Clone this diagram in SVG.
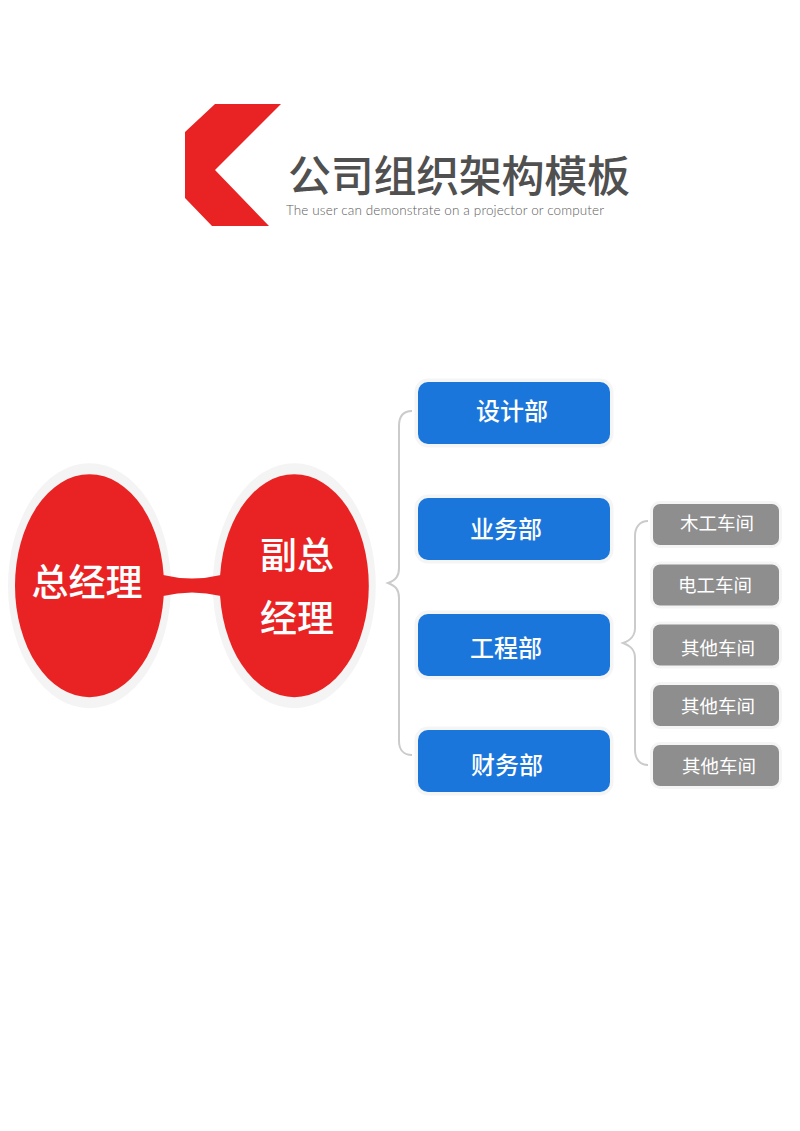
<svg xmlns="http://www.w3.org/2000/svg" width="800" height="1131" viewBox="0 0 800 1131">
<style>
text{font-family:"Noto Sans CJK SC","Noto Sans",sans-serif;text-anchor:middle}
.halo{fill:#f4f4f4}
.oval{fill:#e92323}
.dept{fill:#1b76dc;stroke:#f5f5f5;stroke-width:7;paint-order:stroke}
.shop{fill:#8e8e8e;stroke:#f5f5f5;stroke-width:6;paint-order:stroke}
.ot{fill:#fff;font-size:37px;font-weight:500}
.dt{fill:#fff;font-size:24px;font-weight:500}
.st{fill:#fff;font-size:18.500px;font-weight:400}
.br{fill:none;stroke:#cbcbcb;stroke-width:2}
</style>
<rect width="800" height="1131" fill="#fff"/>
<g id="header">
<polygon points="215,104 281,104 215,170 269,226 212,226 185,198 185,132" fill="#e92323"/>
<text x="459" y="192" font-size="43" fill="#505050" font-weight="500" textLength="342" lengthAdjust="spacing">公司组织架构模板</text>
<text x="445" y="214.500" font-size="13.500" fill="#5c5c5c" textLength="318" lengthAdjust="spacing" style="font-family:Lato,'Noto Sans',sans-serif;font-weight:300">The user can demonstrate on a projector or computer</text>
</g>
<g id="n-gm"><ellipse class="halo" cx="89.500" cy="585.700" rx="81.500" ry="122.500"/><ellipse class="oval" cx="89.500" cy="585.700" rx="74.500" ry="111.500"/><text class="ot" x="87" y="596">总经理</text></g>
<g id="n-vgm"><ellipse class="halo" cx="294.300" cy="585.700" rx="81.500" ry="122.500"/><ellipse class="oval" cx="294.300" cy="585.700" rx="74.500" ry="111.500"/><text class="ot" x="297" y="569">副总</text><text class="ot" x="297" y="632">经理</text></g>
<g id="n-design"><rect class="dept" x="418" y="382" width="192" height="62" rx="10"/><text class="dt" x="512" y="420">设计部</text></g>
<g id="n-business"><rect class="dept" x="418" y="498" width="192" height="62" rx="10"/><text class="dt" x="506" y="538">业务部</text></g>
<g id="n-engineering"><rect class="dept" x="418" y="614" width="192" height="62" rx="10"/><text class="dt" x="506" y="657">工程部</text></g>
<g id="n-finance"><rect class="dept" x="418" y="730" width="192" height="62" rx="10"/><text class="dt" x="507" y="774">财务部</text></g>
<g id="n-s1"><rect class="shop" x="653" y="504" width="126" height="41" rx="7"/><text class="st" x="717" y="530">木工车间</text></g>
<g id="n-s2"><rect class="shop" x="653" y="564.500" width="126" height="41" rx="7"/><text class="st" x="715" y="592">电工车间</text></g>
<g id="n-s3"><rect class="shop" x="653" y="624.500" width="126" height="41" rx="7"/><text class="st" x="718" y="655">其他车间</text></g>
<g id="n-s4"><rect class="shop" x="653" y="685" width="126" height="41" rx="7"/><text class="st" x="718" y="713">其他车间</text></g>
<g id="n-s5"><rect class="shop" x="653" y="745" width="126" height="41" rx="7"/><text class="st" x="719" y="773">其他车间</text></g>
<g id="connectors">
<path d="M163 575Q192 582 221 575L221 596Q192 589 163 596Z" fill="#e92323"/>
<path class="br" d="M412 411C404 411 399 416 399 426V568C399 576 396 580 388 583C396 586 399 590 399 598V741C399 750 404 755 412 755"/>
<path class="br" d="M648 521C640 521 635 527 635 536V628C635 636 631 640 623 643C631 646 635 650 635 658V750C635 759 640 765 648 765"/>
</g>
</svg>
